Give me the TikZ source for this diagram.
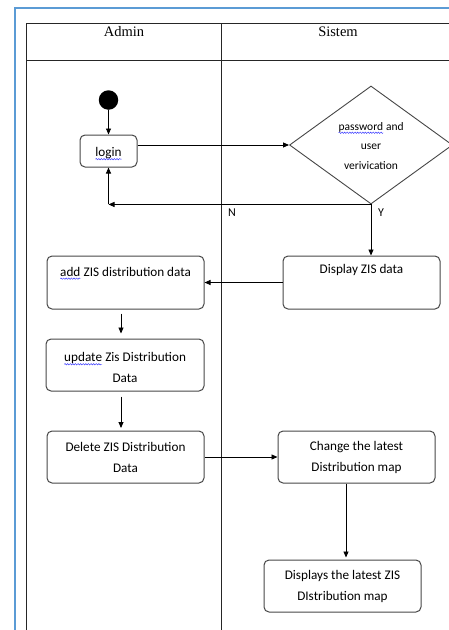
\documentclass[tikz,border=0pt]{standalone}
\usepackage{fontspec}
\setmainfont{Liberation Serif}
\newfontfamily\boxfont{Carlito}
\usetikzlibrary{shapes.geometric,arrows.meta,decorations.pathmorphing}
\definecolor{frameblue}{RGB}{91,155,213}
\definecolor{boxgray}{RGB}{70,70,70}
\newcommand\spellerr[1]{\tikz[baseline=(sw.base),x=1pt,y=1pt,sharp corners]{\node[inner sep=0pt,outer sep=0pt,anchor=base,draw=none,minimum size=0pt](sw){#1};\draw[blue!80,line width=0.45pt,sharp corners,decorate,decoration={snake,amplitude=0.7pt,segment length=2.6pt}] ([yshift=-2.3pt]sw.base west) -- ([yshift=-2.3pt]sw.base east);}}
\tikzset{
  actbox/.style={draw=boxgray, line width=1pt, rounded corners=5pt, align=center,
    font=\boxfont\fontsize{13.2}{21}\selectfont, inner sep=0pt, minimum height=53pt, minimum width=157pt,
    execute at begin node={\rule{0pt}{15pt}}},
  flow/.style={draw=black, line width=0.9pt, -{Triangle[length=6pt,width=5pt]}},
  lane/.style={draw=black!85, line width=0.9pt},
  lbl/.style={font=\boxfont\fontsize{12}{14}\selectfont, inner sep=0pt}
}
\begin{document}
\begin{tikzpicture}[x=1pt,y=-1pt]
\useasboundingbox (0,0) rectangle (448,630);
% outer blue frame
\draw[frameblue, line width=2.2pt] (15,8) rectangle (470,650);
% swimlane table
\draw[lane] (26,23) rectangle (470,650);
\draw[lane] (26,60) -- (470,60);
\draw[lane] (221,23) -- (221,650);
\node[font=\fontsize{14.5}{16}\selectfont, inner sep=0pt] (hadmin) at (124,32) {Admin};
\node[font=\fontsize{14.5}{16}\selectfont, inner sep=0pt] (hsistem) at (338,32) {Sistem};
% start node
\node[circle, fill=black, minimum size=19.5pt, inner sep=0pt] (start) at (108.5,100) {};
% login
\node[actbox, minimum width=57pt, minimum height=32pt] (login) at (108.5,151) {\spellerr{login}};
% decision
\node[diamond, draw=boxgray, line width=0.9pt, minimum width=163pt, minimum height=118pt, inner sep=0pt] (dec) at (371,145) {};
\node[align=center, font=\boxfont\fontsize{11.5}{19.5}\selectfont, inner sep=0pt] (dectext) at (371,146) {\spellerr{password} and\\user\\verivication};
% activity boxes
\node[actbox] (add) at (125.5,282.5) {\spellerr{add} ZIS distribution data\\\strut};
\node[actbox] (display) at (361.5,282.5) {Display ZIS data\\\strut};
\node[actbox, minimum width=158pt, minimum height=52pt] (update) at (125,365) {\spellerr{update} Zis Distribution\\Data};
\node[actbox, minimum height=52pt] (delete) at (125.5,457) {Delete ZIS Distribution\\Data};
\node[actbox, minimum height=52pt] (change) at (356.5,457) {Change the latest\\Distribution map};
\node[actbox, minimum height=52pt] (displays) at (342.5,586) {Displays the latest ZIS\\DIstribution map};
% connectors
\draw[flow] (start) -- (login);
\draw[flow] (login.east |- dec.west) -- (dec.west);
\coordinate (ncorner) at (login.south |- dec.south);
\draw[flow] (dec.south) -- (ncorner);
\draw[flow] (ncorner) -- (login.south);
\node[lbl] (nlabel) at (232,213) {N};
\node[lbl] (ylabel) at (381,213) {Y};
\draw[flow] (dec.south) -- (dec.south |- display.north);
\draw[flow] (display.west) -- (add.east);
\draw[flow, shorten <=4pt, shorten >=5pt] ([xshift=-4.5pt]add.south) -- ([xshift=-4.5pt]add.south |- update.north);
\draw[flow, shorten <=5pt, shorten >=2.5pt] ([xshift=-4pt]update.south) -- ([xshift=-4pt]update.south |- delete.north);
\draw[flow] (delete.east) -- (change.west);
\draw[flow, shorten >=2pt] ([xshift=-10.5pt]change.south) -- ([xshift=-10.5pt]change.south |- displays.north);
\end{tikzpicture}
\end{document}
